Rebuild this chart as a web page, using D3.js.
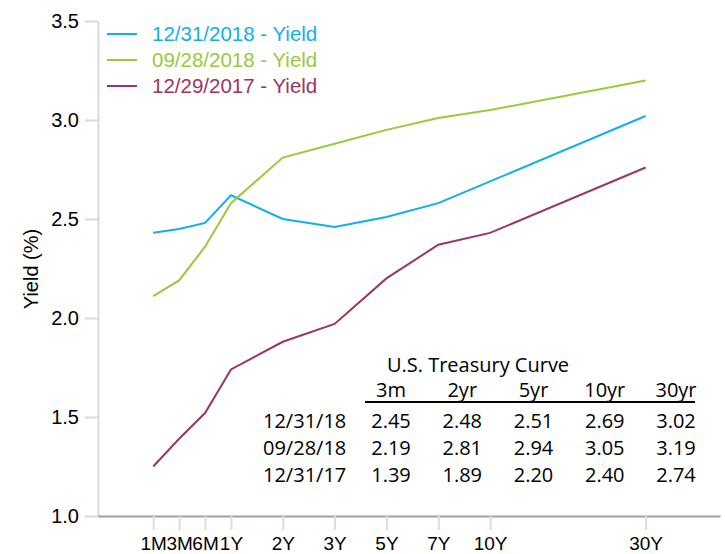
<!DOCTYPE html>
<html>
<head>
<meta charset="utf-8">
<script src="https://cdn.jsdelivr.net/npm/d3@7"></script>
<style>
  body { margin: 0; background: #fff; overflow: hidden; }
  svg { display: block; }
  .sans { font-family: "Liberation Sans", Arial, sans-serif; }
  .axis text { fill: #000; font-size: 20px; font-family: "Liberation Sans", Arial, sans-serif; }
  .x-axis text { font-size: 19px; }
  .table-text { font-family: "Open Sans", "Noto Sans", sans-serif; font-size: 20px; fill: #000; }
</style>
</head>
<body>
<div id="chart-container"></div>
<script>
// tenors on the x axis, and their slot on the (gapped) category axis
var tenors = ['1M', '3M', '6M', '1Y', '2Y', '3Y', '5Y', '7Y', '10Y', '30Y'];
var tenorSlots = [0, 1, 2, 3, 5, 7, 9, 11, 13, 19];

var seriesNames = ['12/31/2018 - Yield', '09/28/2018 - Yield', '12/29/2017 - Yield'];
var yield20181231 = [2.43, 2.45, 2.48, 2.62, 2.50, 2.46, 2.51, 2.58, 2.69, 3.02];
var yield20180928 = [2.11, 2.19, 2.36, 2.58, 2.81, 2.88, 2.95, 3.01, 3.05, 3.20];
var yield20171229 = [1.25, 1.39, 1.52, 1.74, 1.88, 1.97, 2.20, 2.37, 2.43, 2.76];

var yTicks = [1.0, 1.5, 2.0, 2.5, 3.0, 3.5];

// inset table
var tableTitle = 'U.S. Treasury Curve';
var tableCols = ['3m', '2yr', '5yr', '10yr', '30yr'];
var tableRows = ['12/31/18', '09/28/18', '12/31/17'];
var tableValues = [
  ['2.45', '2.48', '2.51', '2.69', '3.02'],
  ['2.19', '2.81', '2.94', '3.05', '3.19'],
  ['1.39', '1.89', '2.20', '2.40', '2.74']
];

var colors = ['#12b0e8', '#9ac93c', '#9b3565'];
var allSeries = [yield20181231, yield20180928, yield20171229];

var width = 725, height = 554;
var plotLeft = 98, plotRight = 720, plotTop = 21, plotBottom = 516;

var svg = d3.select('#chart-container')
            .append('svg')
            .attr('width', width)
            .attr('height', height);

var x = d3.scaleLinear().domain([-2.13, 21.87]).range([plotLeft, plotRight]);
var y = d3.scaleLinear().domain([1, 3.5]).range([plotBottom, plotTop]);

// y axis
var yAxis = svg.append('g')
               .attr('class', 'axis')
               .attr('transform', 'translate(' + plotLeft + ',0)')
               .call(d3.axisLeft(y).tickValues(yTicks).tickFormat(d3.format('.1f'))
                       .tickSize(13).tickSizeOuter(0).tickPadding(6));
yAxis.select('.domain').attr('stroke', '#d9d9d9').attr('stroke-width', 2);
yAxis.selectAll('.tick line').attr('stroke', '#d9d9d9').attr('stroke-width', 2);

// x axis
var xAxis = svg.append('g')
               .attr('class', 'axis x-axis')
               .attr('transform', 'translate(0,' + plotBottom + ')')
               .call(d3.axisBottom(x).tickValues(tenorSlots)
                       .tickFormat(function(d, i) { return tenors[i]; })
                       .tickSize(14).tickSizeOuter(0).tickPadding(7));
xAxis.select('.domain').attr('stroke', '#a0a0a0').attr('stroke-width', 2);
xAxis.selectAll('.tick line').attr('stroke', '#dddddd').attr('stroke-width', 2);

svg.append('text')
   .attr('class', 'sans')
   .attr('transform', 'translate(38,269) rotate(-90)')
   .attr('text-anchor', 'middle')
   .attr('font-size', 20)
   .text('Yield (%)');

// lines
var line = d3.line()
             .x(function(d, i) { return x(tenorSlots[i]); })
             .y(function(d) { return y(d); });

svg.selectAll('path.series')
   .data(allSeries)
   .enter()
   .append('path')
     .attr('class', 'series')
     .attr('fill', 'none')
     .attr('stroke', function(d, i) { return colors[i]; })
     .attr('stroke-width', 2)
     .attr('d', line);

// legend
var legend = svg.selectAll('g.legend')
                .data(seriesNames)
                .enter()
                .append('g')
                  .attr('class', 'legend sans')
                  .attr('transform', function(d, i) { return 'translate(107,' + (34 + i * 26) + ')'; });
legend.append('line')
      .attr('x1', 0).attr('x2', 30)
      .attr('stroke', function(d, i) { return colors[i]; })
      .attr('stroke-width', 2);
legend.append('text')
      .attr('x', 45)
      .attr('y', 7)
      .attr('font-size', 20.5)
      .attr('fill', function(d, i) { return colors[i]; })
      .text(function(d) { return d; });

// table
var col = d3.scalePoint().domain(tableCols).range([391, 676]);
var table = svg.append('g').attr('class', 'table-text');

table.append('text')
     .attr('class', 'table-text')
     .attr('x', 478).attr('y', 372)
     .attr('text-anchor', 'middle')
     .text(tableTitle);

table.selectAll('text.head')
     .data(tableCols)
     .enter()
     .append('text')
       .attr('class', 'table-text head')
       .attr('x', function(d) { return col(d); })
       .attr('y', 397)
       .attr('text-anchor', 'middle')
       .text(function(d) { return d; });

table.append('line')
     .attr('x1', 365).attr('x2', 695)
     .attr('y1', 402).attr('y2', 402)
     .attr('stroke', '#000').attr('stroke-width', 2);

var rows = table.selectAll('g.row')
                .data(tableRows)
                .enter()
                .append('g')
                  .attr('class', 'row')
                  .attr('transform', function(d, i) { return 'translate(0,' + (428 + i * 27) + ')'; });
rows.append('text')
    .attr('class', 'table-text')
    .attr('x', 263)
    .text(function(d) { return d; });
rows.selectAll('text.val')
    .data(function(d, i) { return tableValues[i]; })
    .enter()
    .append('text')
      .attr('class', 'table-text val')
      .attr('x', function(d, j) { return col(tableCols[j]); })
      .attr('text-anchor', 'middle')
      .text(function(d) { return d; });
</script>
</body>
</html>
